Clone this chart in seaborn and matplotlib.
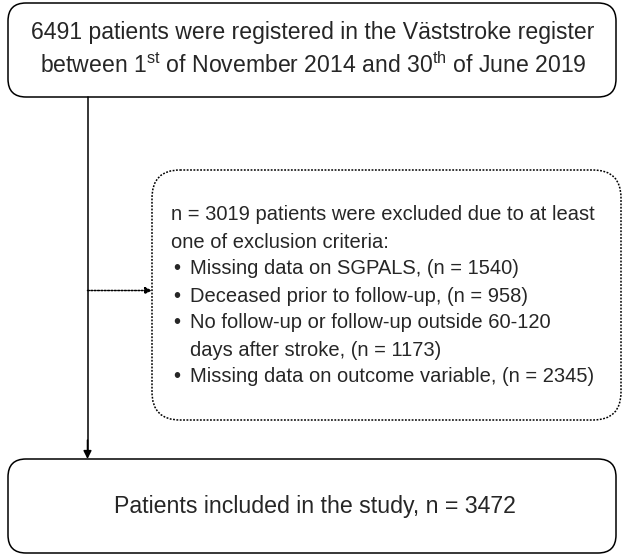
import matplotlib
matplotlib.use("Agg")
import matplotlib.pyplot as plt
import seaborn as sns
from matplotlib.patches import FancyBboxPatch

# ---------------- DATA ----------------

top_lines = [
    "6491 patients were registered in the Väststroke register",
    "between 1$^{\\mathrm{st}}$ of November 2014 and 30$^{\\mathrm{th}}$ of June 2019",
]
excl_header = [
    "n = 3019 patients were excluded due to at least",
    "one of exclusion criteria:",
]
excl_items = [
    ["Missing data on SGPALS, (n = 1540)"],
    ["Deceased prior to follow-up, (n = 958)"],
    ["No follow-up or follow-up outside 60-120", "days after stroke, (n = 1173)"],
    ["Missing data on outcome variable, (n = 2345)"],
]
bottom_text = "Patients included in the study, n = 3472"

# ---------------- STYLE ----------------

sns.set_theme(style="white")
plt.rcParams['font.family'] = ['Liberation Sans', 'DejaVu Sans']
plt.rcParams['mathtext.fontset'] = 'custom'
plt.rcParams['mathtext.rm'] = 'Liberation Sans'

fig = plt.figure(figsize=(6.24, 5.57), dpi=100)
ax = fig.add_axes([0, 0, 1, 1])
ax.set_xlim(0, 624)
ax.set_ylim(557, 0)
ax.axis("off")

# ---------------- BOXES ----------------

def box(x0, y0, x1, y1, ls="-", r=18):
    p = FancyBboxPatch((x0 + r, y0 + r), (x1 - x0) - 2 * r, (y1 - y0) - 2 * r,
                       boxstyle=f"round,pad={r}", fc="white", ec="black",
                       lw=1.1, ls=ls)
    ax.add_patch(p)

box(8, 3, 616, 97)
box(152, 170, 621, 420, ls=(0, (1.2, 1.0)), r=28)
box(8, 459, 616, 553)

# top text
for i, t in enumerate(top_lines):
    ax.text(313, 33 + i * 32, t, ha="center", va="center", fontsize=16.6)

# exclusion text
y = 215
for t in excl_header:
    ax.text(171, y, t, ha="left", va="center", fontsize=14.5)
    y += 27
for item in excl_items:
    ax.text(173, y, "•", ha="left", va="center", fontsize=14.5)
    for t in item:
        ax.text(190, y, t, ha="left", va="center", fontsize=14.5)
        y += 27

# bottom text
ax.text(315, 506, bottom_text, ha="center", va="center", fontsize=16.7)

# ---------------- CONNECTORS ----------------

ax.plot([87.5, 87.5], [97, 450], color="black", lw=1.1)
ax.annotate("", xy=(87.5, 459), xytext=(87.5, 440),
            arrowprops=dict(arrowstyle="-|>", color="black", lw=1.1,
                            mutation_scale=12, shrinkA=0, shrinkB=0))
ax.annotate("", xy=(152, 290.5), xytext=(87.5, 290.5),
            arrowprops=dict(arrowstyle="-|>", color="black", lw=1.1,
                            ls=(0, (1.2, 1.0)), mutation_scale=10,
                            shrinkA=0, shrinkB=0))

fig.savefig("out.png", dpi=100, facecolor="white")
